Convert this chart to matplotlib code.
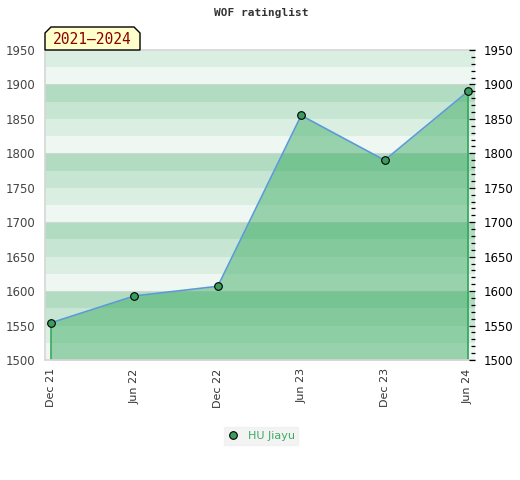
import numpy as np
import matplotlib
matplotlib.use("Agg")
import matplotlib.pyplot as plt
from matplotlib.patches import Polygon
from matplotlib.lines import Line2D
from matplotlib.ticker import MultipleLocator

# data
periods = ["Dec 21", "Jun 22", "Dec 22", "Jun 23", "Dec 23", "Jun 24"]
ratings = [1554, 1593, 1607, 1855, 1790, 1890]
player = "HU Jiayu"
span_label = "2021\u20132024"

y_min, y_max = 1500, 1950

W, H = 520, 480
fig = plt.figure(figsize=(W / 100, H / 100), dpi=100)
ax = fig.add_axes([45 / W, 1 - 360 / H, 430 / W, 310 / H])

x = np.arange(len(periods))

# striped background, 4 shades repeating every 100 points
shades = ["#b2dcc2", "#c7e5d3", "#dbeee2", "#eef7f1"]
edges = np.arange(y_max, y_min - 1, -25)
for lo, hi in zip(edges[1:], edges[:-1]):
    k = int(((1900 - hi) // 25) % 4)
    ax.axhspan(lo, hi, color=shades[k], lw=0, zorder=0)
for g in range(1600, y_max, 100):
    ax.axhline(g, color="#cfd8d2", lw=0.8, zorder=0.5)

ax.fill_between(x, ratings, y_min, color="#30a75a", alpha=0.45, lw=0, zorder=1)
ax.vlines([x[0], x[-1]], y_min, [ratings[0], ratings[-1]], color="#33a65a", lw=1.2, zorder=2)
ax.plot(x, ratings, color="#5b9bd5", lw=1.2, zorder=3)
ax.plot(x, ratings, "o", ms=5.5, mfc="#3a9d5d", mec="black", mew=0.8, zorder=4)

ax.set_xlim(-0.072, len(periods) - 1 + 0.084)
ax.set_ylim(y_min, y_max)
ax.set_xticks(x)
ax.set_xticklabels(periods, rotation=90, fontsize=8, color="#333333")
ax.tick_params(axis="x", length=0, pad=6)
ax.set_yticks(range(y_min, y_max + 1, 50))
ax.tick_params(axis="y", length=0, pad=7, labelsize=8.5, labelcolor="#444444")

for s in ["left", "bottom", "top"]:
    ax.spines[s].set_color("#d6d6d6")
    ax.spines[s].set_linewidth(1.2)
ax.spines["right"].set_visible(False)

ax2 = ax.twinx()
ax2.set_ylim(y_min, y_max)
ax2.set_yticks(range(y_min, y_max + 1, 50))
ax2.yaxis.set_minor_locator(MultipleLocator(10))
ax2.tick_params(axis="y", which="major", direction="in", length=4.5, width=0.9,
                pad=6, labelsize=8.5, labelcolor="black")
ax2.tick_params(axis="y", which="minor", direction="in", length=3, width=0.9)
for s in ax2.spines.values():
    s.set_visible(False)

fig.text(261 / W, 1 - 13 / H, "WOF ratinglist", ha="center", va="center",
         family="DejaVu Sans Mono", weight="bold", fontsize=8, color="#333333")

# period tag above the plot
px = np.array([45, 45, 51, 134, 140, 140])
py = np.array([50, 33, 27, 27, 33, 50])
tag = Polygon(np.column_stack([px / W, 1 - py / H]), closed=True,
              transform=fig.transFigure, fc="#ffffcc", ec="black", lw=1, zorder=5)
fig.patches.append(tag)
fig.text(92 / W, 1 - 40 / H, span_label, ha="center", va="center",
         family="DejaVu Sans Mono", fontsize=10.5, color="#8b0000", zorder=6)

handle = Line2D([], [], ls="none", marker="o", ms=5.5, mfc="#3a9d5d", mec="black", mew=0.8)
leg = fig.legend([handle], [player], loc="center", bbox_to_anchor=(261 / W, 1 - 436 / H),
                 frameon=True, fontsize=8, handlelength=1, handletextpad=0.8,
                 borderpad=0.35, fancybox=False)
leg.get_frame().set_facecolor("#f0f0f0")
leg.get_frame().set_edgecolor("#f0f0f0")
for t in leg.get_texts():
    t.set_color("#3cab62")

fig.savefig("out.png", dpi=100)
